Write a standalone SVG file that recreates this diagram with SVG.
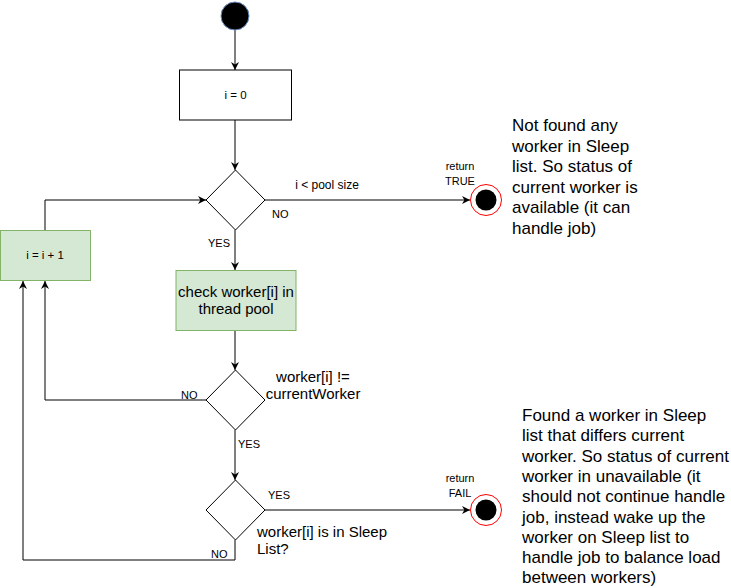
<svg xmlns="http://www.w3.org/2000/svg" width="731" height="588" viewBox="0 0 731 588">
<style>
text{font-family:"Liberation Sans",Arial,Helvetica,sans-serif;fill:#000}
.c{fill:none;stroke:#000;stroke-width:1}
.box{fill:#fff;stroke:#000;stroke-width:1}
.g{fill:#d5e8d4;stroke:#82b366;stroke-width:1}
.lbl{font-size:11px}
.m{text-anchor:middle}
.note{font-size:17px}
</style>
<defs>
<marker id="a" viewBox="0 0 10 10" refX="10" refY="5" markerWidth="8" markerHeight="8" markerUnits="userSpaceOnUse" orient="auto">
<path d="M0,0 L10,5 L0,10 L3,5 Z" fill="#000"/>
</marker>
</defs>
<rect width="731" height="588" fill="#fff"/>
<g id="connectors">
<path class="c" d="M235,30 L235,70" marker-end="url(#a)"/>
<path class="c" d="M235,120 L235,170" marker-end="url(#a)"/>
<path class="c" d="M265,200 L470,200" marker-end="url(#a)"/>
<path class="c" d="M235,230 L235,270" marker-end="url(#a)"/>
<path class="c" d="M45,230 L45,200 L206,200" marker-end="url(#a)"/>
<path class="c" d="M235,330 L235,370" marker-end="url(#a)"/>
<path class="c" d="M206,400 L45,400 L45,281" marker-end="url(#a)"/>
<path class="c" d="M235,430 L235,480" marker-end="url(#a)"/>
<path class="c" d="M265,510 L470,510" marker-end="url(#a)"/>
<path class="c" d="M235,540 L235,560 L23,560 L23,281" marker-end="url(#a)"/>
</g>
<g id="start"><circle cx="235" cy="16" r="14" fill="#000" stroke="#6c8ebf"/></g>
<g id="init"><rect class="box" x="179.5" y="70" width="112" height="50"/><text class="m" x="235.5" y="99" font-size="11.5">i = 0</text></g>
<g id="cond1"><path class="box" d="M235.5,170 L265,200 L235.5,230 L206,200 Z"/></g>
<g id="incr"><rect class="g" x="0.5" y="230.5" width="90" height="50"/><text class="m" x="45" y="259" font-size="11.5">i = i + 1</text></g>
<g id="check"><rect class="g" x="176" y="270.5" width="120" height="60"/><text class="m" x="236" y="297" font-size="15">check worker[i] in</text><text class="m" x="236" y="314" font-size="15">thread pool</text></g>
<g id="cond2"><path class="box" d="M235.5,370 L265,400 L235.5,430 L206,400 Z"/></g>
<g id="cond3"><path class="box" d="M235.5,480 L265,510 L235.5,540 L206,510 Z"/></g>
<g id="endTrue"><circle cx="486" cy="200" r="15.5" fill="#fff" stroke="#ff0000"/><circle cx="486" cy="200" r="10.5" fill="#000"/></g>
<g id="endFail"><circle cx="486" cy="510" r="15.5" fill="#fff" stroke="#ff0000"/><circle cx="486" cy="510" r="10.5" fill="#000"/></g>
<g id="labels">
<text class="m" x="327" y="189" font-size="12">i &lt; pool size</text>
<text class="lbl" x="272" y="218">NO</text>
<text class="lbl m" x="460" y="170">return</text>
<text class="lbl m" x="460" y="185">TRUE</text>
<text class="lbl" x="208" y="247">YES</text>
<text class="lbl" x="181" y="399">NO</text>
<text class="m" x="313" y="382" font-size="15">worker[i] !=</text>
<text class="m" x="313" y="399" font-size="15">currentWorker</text>
<text class="lbl" x="238" y="448">YES</text>
<text class="lbl" x="268" y="499">YES</text>
<text class="lbl m" x="460" y="482">return</text>
<text class="lbl m" x="460" y="497">FAIL</text>
<text x="257" y="537" font-size="15">worker[i] is in Sleep</text>
<text x="257" y="554" font-size="15">List?</text>
<text class="lbl" x="211" y="558">NO</text>
</g>
<g id="note1" class="note">
<text x="512" y="131">Not found any</text>
<text x="512" y="151.5">worker in Sleep</text>
<text x="512" y="172">list. So status of</text>
<text x="512" y="192.5">current worker is</text>
<text x="512" y="213">available (it can</text>
<text x="512" y="233.5">handle job)</text>
</g>
<g id="note2" class="note">
<text x="522" y="421">Found a worker in Sleep</text>
<text x="522" y="441.3">list that differs current</text>
<text x="522" y="461.6">worker. So status of current</text>
<text x="522" y="481.9">worker in unavailable (it</text>
<text x="522" y="502.2">should not continue handle</text>
<text x="522" y="522.5">job, instead wake up the</text>
<text x="522" y="542.8">worker on Sleep list to</text>
<text x="522" y="563.1">handle job to balance load</text>
<text x="522" y="583.4">between workers)</text>
</g>
</svg>
